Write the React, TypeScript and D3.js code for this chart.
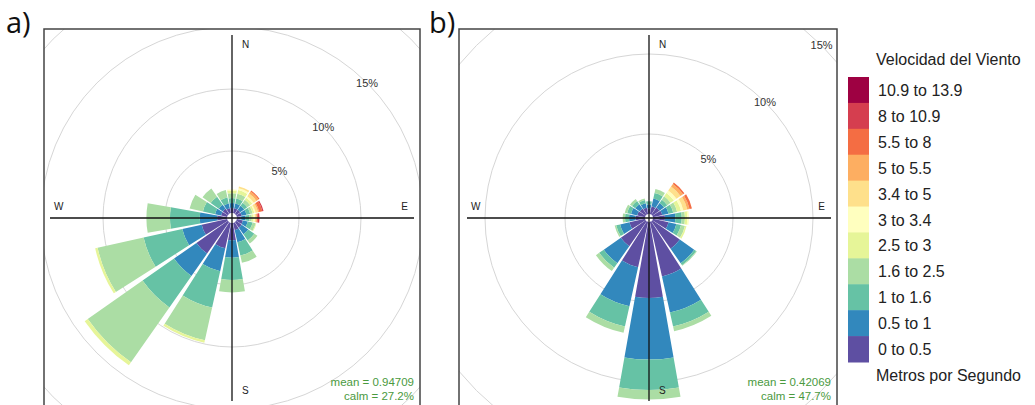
import React from 'react';
import * as d3 from 'd3';

// Wind directions (degrees, clockwise from North)
const directions = [0, 22.5, 45, 67.5, 90, 112.5, 135, 157.5, 180, 202.5, 225, 247.5, 270, 292.5, 315, 337.5];

// Speed classes (m/s), bottom to top
const speedBins = ['0 to 0.5', '0.5 to 1', '1 to 1.6', '1.6 to 2.5', '2.5 to 3', '3 to 3.4', '3.4 to 5', '5 to 5.5', '5.5 to 8', '8 to 10.9', '10.9 to 13.9'];
const binColors = ['#5E4FA2', '#3288BD', '#66C2A5', '#ABDDA4', '#E6F598', '#FFFFBF', '#FEE08B', '#FDAE61', '#F46D43', '#D53E4F', '#9E0142'];

// Frequencies (%) per direction, per speed class — panel a
const freqA = [
  [0.4, 0.4, 0.4, 0.4, 0.2, 0.1],
  [0.4, 0.4, 0.4, 0.4, 0.3, 0.15, 0.15],
  [0.4, 0.4, 0.3, 0.3, 0.2, 0.15, 0.25, 0.2, 0.1],
  [0.4, 0.4, 0.3, 0.2, 0.15, 0.1, 0.2, 0.1, 0.25, 0.1],
  [0.3, 0.4, 0.3, 0.2, 0.15, 0.1, 0.12, 0.03, 0.1, 0.12],
  [0.5, 0.4, 0.4, 0.25, 0.05],
  [0.55, 0.65, 0.6, 0.3],
  [0.6, 1.0, 1.1, 0.6],
  [1.4, 1.4, 1.8, 1.0],
  [2.1, 1.9, 3.0, 2.7, 0.2],
  [3.1, 2.2, 3.1, 5.4, 0.3],
  [2.1, 1.6, 3.2, 3.8, 0.2],
  [0.8, 1.4, 2.4, 1.9],
  [0.5, 0.5, 1.0, 1.1],
  [0.5, 0.4, 0.8, 0.8],
  [0.4, 0.4, 0.5, 0.6],
];

// Frequencies (%) per direction, per speed class — panel b
const freqB = [
  [0.35, 0.25, 0.2],
  [0.5, 0.5, 0.35, 0.25],
  [0.55, 0.35, 0.25, 0.25, 0.25, 0.2, 0.3, 0.2, 0.1],
  [0.6, 0.4, 0.3, 0.25, 0.25, 0.15, 0.25, 0.15, 0.15],
  [0.75, 0.65, 0.4, 0.2, 0.15, 0.1],
  [1.0, 0.5, 0.3, 0.25, 0.1],
  [2.1, 1.1, 0.15, 0.05],
  [3.5, 2.3, 0.9, 0.3],
  [4.75, 3.85, 1.9, 0.6],
  [2.9, 2.5, 1.3, 0.4],
  [1.9, 1.3, 0.35, 0.25],
  [1.0, 0.6, 0.25, 0.1],
  [0.6, 0.4, 0.25, 0.15],
  [0.5, 0.4, 0.25, 0.15],
  [0.45, 0.35, 0.25, 0.15],
  [0.4, 0.3, 0.2, 0.1],
];

const gridPct = [5, 10, 15, 20];
const labelPct = [5, 10, 15];
const compass = ['N', 'E', 'S', 'W'];

const statsA = { mean: 'mean = 0.94709', calm: 'calm = 27.2%' };
const statsB = { mean: 'mean = 0.42069', calm: 'calm = 47.7%' };

const FONT = '"Liberation Sans", Arial, sans-serif';

type RoseProps = {
  id: string;
  freq: number[][];
  x0: number;
  x1: number;
  cx: number;
  cy: number;
  r0: number;
  rMax: number;
  stats: { mean: string; calm: string };
  tag: string;
  tagX: number;
};

function Rose({ id, freq, x0, x1, cx, cy, r0, rMax, stats, tag, tagX }: RoseProps) {
  const top = 29;
  const bottom = 430;
  const r = d3.scaleLinear().domain([0, 20]).range([r0, rMax]);
  const arc = d3.arc<any>();
  const half = 10;
  const rad = (deg: number) => (deg * Math.PI) / 180;
  const petals: JSX.Element[] = [];
  directions.forEach((dir, i) => {
    const cum = d3.cumsum(freq[i]);
    freq[i].forEach((v, j) => {
      const inner = j === 0 ? 0 : cum[j - 1];
      const outer = cum[j];
      const d = arc({
        innerRadius: r(inner),
        outerRadius: r(outer),
        startAngle: rad(dir - half),
        endAngle: rad(dir + half),
      });
      petals.push(<path key={`${i}-${j}`} d={d || ''} fill={binColors[j]} />);
    });
  });
  const L = 182;
  const compassPos: Record<string, [number, number, string]> = {
    N: [cx + 10, cy - 170, 'start'],
    S: [cx + 10, cy + 176, 'start'],
    W: [cx - 178, cy - 8, 'start'],
    E: [cx + 176, cy - 8, 'end'],
  };
  return (
    <g>
      <defs>
        <clipPath id={`clip-${id}`}>
          <rect x={x0} y={top} width={x1 - x0} height={bottom - top} />
        </clipPath>
      </defs>
      <g clipPath={`url(#clip-${id})`}>
        {gridPct.map((p) => (
          <circle key={p} cx={cx} cy={cy} r={r(p)} fill="none" stroke="#d6d6d6" strokeWidth={1} />
        ))}
        <g transform={`translate(${cx},${cy})`}>{petals}</g>
        <line x1={cx - L} x2={cx + L} y1={cy} y2={cy} stroke="#111" strokeWidth={1.3} />
        <line x1={cx} x2={cx} y1={cy - 183} y2={cy + 183} stroke="#111" strokeWidth={1.3} />
        {labelPct.map((p) => {
          const rr = r(p);
          const lx = cx + rr * Math.SQRT1_2;
          const ly = cy - rr * Math.SQRT1_2;
          return (
            <text key={p} x={lx} y={ly + 4} textAnchor="middle" fontSize={11} fill="#333" fontFamily={FONT}>
              {`${p}%`}
            </text>
          );
        })}
        {compass.map((c) => {
          const [px, py, anchor] = compassPos[c];
          return (
            <text key={c} x={px} y={py} textAnchor={anchor as any} fontSize={10} fill="#222" fontFamily={FONT}>
              {c}
            </text>
          );
        })}
        <text x={x1 - 6} y={386} textAnchor="end" fontSize={11.5} fill="#4a9a3e" fontFamily={FONT}>
          {stats.mean}
        </text>
        <text x={x1 - 6} y={400} textAnchor="end" fontSize={11.5} fill="#4a9a3e" fontFamily={FONT}>
          {stats.calm}
        </text>
      </g>
      <rect x={x0} y={top} width={x1 - x0} height={bottom - top} fill="none" stroke="#444" strokeWidth={1.5} />
      <text x={tagX} y={33} fontSize={29} fill="#111" fontFamily='"Open Sans", "Liberation Sans", sans-serif'>
        {tag}
      </text>
    </g>
  );
}

function Legend() {
  const x = 848;
  const y0 = 77;
  const y1 = 362;
  const n = speedBins.length;
  const band = d3.scaleBand<number>().domain(d3.range(n)).range([y0, y1]);
  return (
    <g fontFamily={FONT}>
      <text x={876} y={65} fontSize={16} fill="#222">Velocidad del Viento</text>
      {d3.range(n).map((k) => {
        const idx = n - 1 - k;
        const y = band(k) as number;
        return (
          <g key={k}>
            <rect x={x} y={y} width={21} height={band.bandwidth() + 0.5} fill={binColors[idx]} />
            <text x={878} y={y + band.bandwidth() / 2 + 6} fontSize={16} fill="#222">
              {speedBins[idx]}
            </text>
          </g>
        );
      })}
      <text x={876} y={381} fontSize={16} fill="#222">Metros por Segundo</text>
    </g>
  );
}

export default function App() {
  return (
    <svg
      width={1035}
      height={405}
      viewBox="0 0 1035 405"
      style={{ position: 'absolute', left: 0, top: 0, background: '#fff' }}
    >
      <rect x={0} y={0} width={1035} height={405} fill="#fff" />
      <Rose id="a" freq={freqA} x0={44} x1={420} cx={232} cy={218} r0={5} rMax={5 + 20 * 12.4} stats={statsA} tag="a)" tagX={6} />
      <Rose id="b" freq={freqB} x0={459} x1={837} cx={649} cy={218} r0={4} rMax={4 + 20 * 16} stats={statsB} tag="b)" tagX={429} />
      <Legend />
    </svg>
  );
}
